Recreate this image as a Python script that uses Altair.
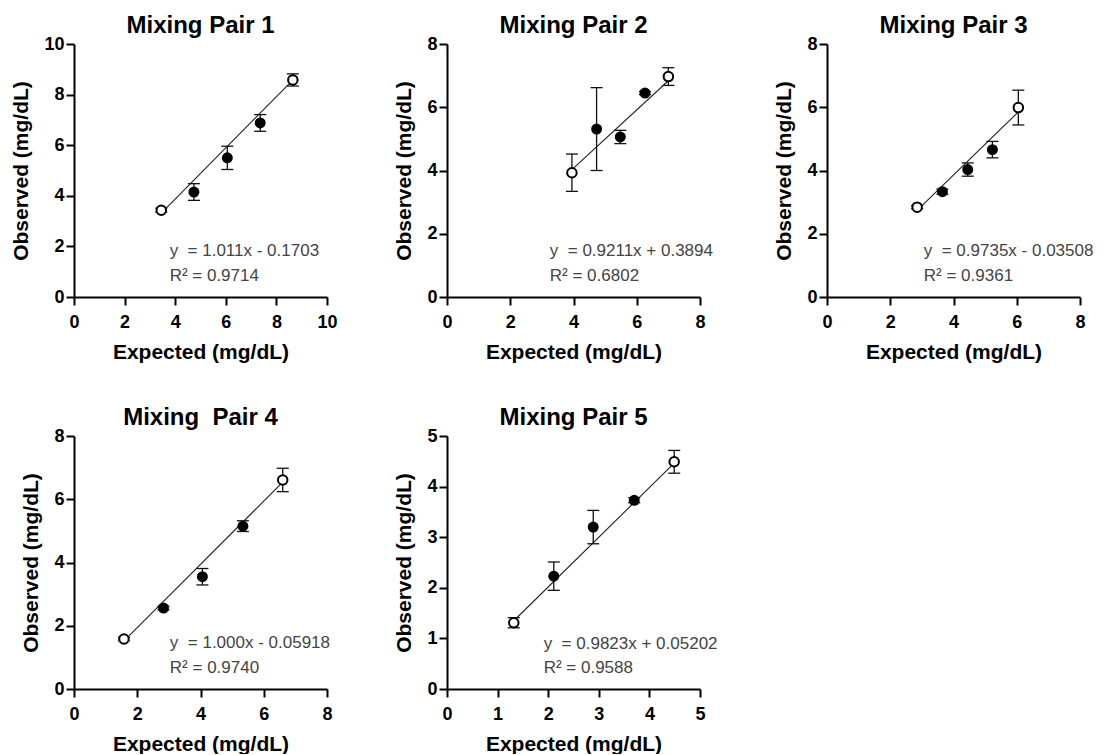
import altair as alt
import pandas as pd

FONT = "Liberation Sans"

# ---- data ----
titles = ["Mixing Pair 1", "Mixing Pair 2", "Mixing Pair 3", "Mixing\u00a0 Pair 4", "Mixing Pair 5"]
axis_max = [10, 8, 8, 8, 5]
tick_step = [2, 2, 2, 2, 1]
kinds = ["open", "filled", "filled", "filled", "open"]

expected_1 = [3.45, 4.74, 6.06, 7.36, 8.65]
observed_1 = [3.43, 4.15, 5.50, 6.88, 8.58]
sd_1 = [0.08, 0.33, 0.46, 0.33, 0.24]

expected_2 = [3.95, 4.73, 5.48, 6.26, 7.00]
observed_2 = [3.93, 5.31, 5.06, 6.45, 6.97]
sd_2 = [0.59, 1.31, 0.21, 0.05, 0.28]

expected_3 = [2.85, 3.65, 4.45, 5.23, 6.05]
observed_3 = [2.84, 3.33, 4.03, 4.66, 5.99]
sd_3 = [0.05, 0.08, 0.21, 0.26, 0.55]

expected_4 = [1.58, 2.83, 4.06, 5.34, 6.60]
observed_4 = [1.58, 2.56, 3.55, 5.15, 6.61]
sd_4 = [0.05, 0.06, 0.26, 0.17, 0.37]

expected_5 = [1.32, 2.11, 2.89, 3.70, 4.49]
observed_5 = [1.31, 2.23, 3.20, 3.73, 4.49]
sd_5 = [0.10, 0.28, 0.33, 0.05, 0.225]

slopes = [1.011, 0.9211, 0.9735, 1.000, 0.9823]
intercepts = [-0.1703, 0.3894, -0.03508, -0.05918, 0.05202]
eq_text = [
    "y\u00a0 = 1.011x - 0.1703",
    "y\u00a0 = 0.9211x + 0.3894",
    "y\u00a0 = 0.9735x - 0.03508",
    "y\u00a0 = 1.000x - 0.05918",
    "y\u00a0 = 0.9823x + 0.05202",
]
r2_text = ["R\u00b2 = 0.9714", "R\u00b2 = 0.6802", "R\u00b2 = 0.9361", "R\u00b2 = 0.9740", "R\u00b2 = 0.9588"]
# annotation anchor (data units): x, y of first line, y of second line
ann_x = [3.78, 3.25, 3.06, 3.03, 1.91]
ann_y1 = [1.62, 1.30, 1.30, 1.30, 0.79]
ann_y2 = [0.63, 0.51, 0.51, 0.51, 0.31]

EXP = [expected_1, expected_2, expected_3, expected_4, expected_5]
OBS = [observed_1, observed_2, observed_3, observed_4, observed_5]
SDS = [sd_1, sd_2, sd_3, sd_4, sd_5]

X_TITLE = "Expected (mg/dL)"
Y_TITLE = "Observed (mg/dL)"


def panel(i):
    m = axis_max[i]
    vals = list(range(0, m + 1, tick_step[i]))
    xs = alt.Scale(domain=[0, m], nice=False, zero=True)
    ys = alt.Scale(domain=[0, m], nice=False, zero=True)
    xa = alt.Axis(values=vals, title=X_TITLE, grid=False, labelFlush=False)
    ya = alt.Axis(values=vals, title=Y_TITLE, grid=False, labelFlush=False)

    def X(field):
        return alt.X(field, type="quantitative", scale=xs, axis=xa, title=X_TITLE)

    def Y(field):
        return alt.Y(field, type="quantitative", scale=ys, axis=ya, title=Y_TITLE)

    pts = pd.DataFrame({"x": EXP[i], "y": OBS[i], "sd": SDS[i], "kind": kinds})
    base = alt.Chart(pts).transform_calculate(
        lo="datum.y - datum.sd", hi="datum.y + datum.sd"
    )

    line_df = pd.DataFrame({
        "x": [min(EXP[i]), max(EXP[i])],
        "slope": [slopes[i]] * 2,
        "intercept": [intercepts[i]] * 2,
    })
    line = alt.Chart(line_df).transform_calculate(
        y="datum.slope * datum.x + datum.intercept"
    ).mark_line(color="#222222", strokeWidth=1.1).encode(x=X("x"), y=Y("y"))

    rules = base.mark_rule(color="#111111", strokeWidth=1.3).encode(
        x=X("x"), y=Y("lo"), y2="hi:Q"
    )
    cap_lo = base.mark_tick(orient="horizontal", size=12, thickness=1.3, color="#111111", opacity=1).encode(
        x=X("x"), y=Y("lo")
    )
    cap_hi = base.mark_tick(orient="horizontal", size=12, thickness=1.3, color="#111111", opacity=1).encode(
        x=X("x"), y=Y("hi")
    )
    open_pts = base.transform_filter("datum.kind == 'open'").mark_point(
        shape="circle", filled=True, fill="white", stroke="black", strokeWidth=2,
        size=90, opacity=1, fillOpacity=1, strokeOpacity=1
    ).encode(x=X("x"), y=Y("y"))
    filled_pts = base.transform_filter("datum.kind == 'filled'").mark_point(
        shape="circle", filled=True, fill="black", strokeWidth=0, size=120, opacity=1
    ).encode(x=X("x"), y=Y("y"))

    txt_df = pd.DataFrame({
        "x": [ann_x[i], ann_x[i]],
        "y": [ann_y1[i], ann_y2[i]],
        "label": [eq_text[i], r2_text[i]],
    })
    txt = alt.Chart(txt_df).mark_text(
        align="left", baseline="alphabetic", font=FONT, fontSize=17, color="#444444"
    ).encode(x=X("x"), y=Y("y"), text="label:N")

    return alt.layer(line, rules, cap_lo, cap_hi, open_pts, filled_pts, txt).properties(
        width=253,
        height=253,
        title=alt.TitleParams(
            text=titles[i], font=FONT, fontSize=24, fontWeight="bold", color="black",
            offset=-3, frame="group", anchor="middle",
        ),
    )


panels = [panel(i) for i in range(5)]

chart = alt.concat(
    *panels, columns=3, spacing={"row": 44, "column": 55}, align="each", bounds="full"
).properties(
    padding={"left": 2, "top": 6, "right": 0, "bottom": 0}
).configure_view(stroke=None).configure_axis(
    domainColor="black", domainWidth=2, tickColor="black", tickWidth=2, tickSize=8,
    labelFont=FONT, labelFontSize=18, labelFontWeight="bold", labelColor="black",
    titleFont=FONT, titleFontSize=21, titleFontWeight="bold", titleColor="black",
    grid=False,
).configure_axisX(labelPadding=8, titlePadding=10).configure_axisY(
    labelPadding=2, titlePadding=12
)

chart.save("out.html", embed_options={"renderer": "svg", "actions": False})
